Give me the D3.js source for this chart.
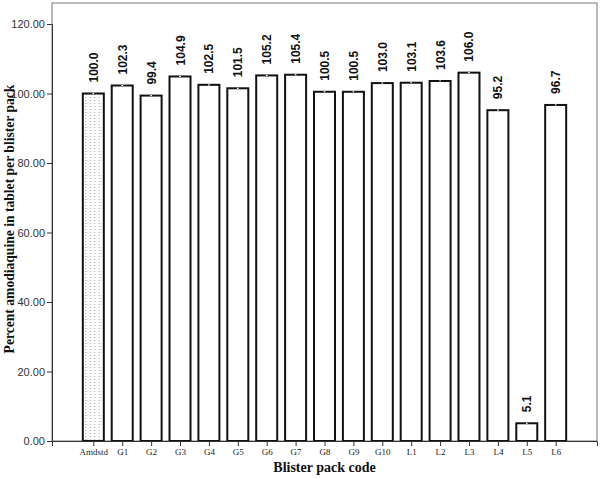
<!DOCTYPE html>
<html><head><meta charset="utf-8">
<script src="https://cdn.jsdelivr.net/npm/d3@7"></script>
<style>body{margin:0;background:#fff}</style>
</head><body>
<svg id="c" width="600" height="478"></svg>
<script>
const categories = ["Amdstd","G1","G2","G3","G4","G5","G6","G7","G8","G9","G10","L1","L2","L3","L4","L5","L6"];
const values = [100.0,102.3,99.4,104.9,102.5,101.5,105.2,105.4,100.5,100.5,103.0,103.1,103.6,106.0,95.2,5.1,96.7];
const yTicks = [0,20,40,60,80,100,120];

const svg = d3.select("#c");
const L = 52, R = 597, T = 3, B = 441;
const y = d3.scaleLinear().domain([0,120]).range([B, 24]);
const x = d3.scalePoint().domain(categories).range([L, R]).padding(1.43);
const bw = 21;

const defs = svg.append("defs");
const pat = defs.append("pattern").attr("id","dots").attr("patternUnits","userSpaceOnUse")
  .attr("width",4.5).attr("height",3).attr("x",x(categories[0])-bw/2+0.5).attr("y",0);
pat.append("rect").attr("x",2).attr("y",1).attr("width",1).attr("height",1).attr("fill","#999");

// frame
svg.append("rect").attr("x",L).attr("y",T).attr("width",R-L).attr("height",B-T)
  .attr("fill","none").attr("stroke","#777").attr("stroke-width",1);

// bars
const g = svg.append("g");
g.selectAll("rect.bar").data(categories).join("rect").attr("class","bar")
  .attr("x",d=>x(d)-bw/2).attr("y",(d,i)=>y(values[i]))
  .attr("width",bw).attr("height",(d,i)=>B-y(values[i]))
  .attr("fill",(d,i)=>i===0?"url(#dots)":"#fff")
  .attr("stroke","#111").attr("stroke-width",2);
// small gap on top
g.selectAll("line.gap").data(categories).join("line").attr("class","gap")
  .attr("x1",d=>x(d)-0.8).attr("x2",d=>x(d)+0.8)
  .attr("y1",(d,i)=>y(values[i])).attr("y2",(d,i)=>y(values[i]))
  .attr("stroke","#fff").attr("stroke-width",1.2);

// value labels
g.selectAll("text.v").data(categories).join("text").attr("class","v")
  .attr("transform",(d,i)=>`translate(${x(d)+4.5},${y(values[i])-11}) rotate(-90)`)
  .attr("font-family","Arial, Liberation Sans, sans-serif").attr("font-weight","bold")
  .attr("font-size","12px").attr("fill","#111")
  .text((d,i)=>values[i].toFixed(1));

// y axis
const ya = svg.append("g").attr("transform",`translate(${L},0)`)
  .call(d3.axisLeft(y).tickValues(yTicks).tickFormat(d=>d.toFixed(2)).tickSize(5).tickPadding(2));
ya.select(".domain").attr("stroke","#333");
ya.selectAll(".tick line").attr("stroke","#333");
ya.selectAll(".tick text").attr("font-family","Arial, Liberation Sans, sans-serif").attr("font-size","11px").attr("fill","#333");

// x axis
const xa = svg.append("g").attr("transform",`translate(0,${B})`)
  .call(d3.axisBottom(x).tickSize(5).tickPadding(3));
xa.select(".domain").attr("stroke","#333");
xa.selectAll(".tick line").attr("stroke","#333");
xa.selectAll(".tick text").attr("font-family","Liberation Serif, Times New Roman, serif").attr("font-size","9px").attr("fill","#222");

// titles
svg.append("text").attr("x",(L+R)/2).attr("y",472).attr("text-anchor","middle")
  .attr("font-family","Liberation Serif, Times New Roman, serif").attr("font-weight","bold")
  .attr("font-size","14px").attr("fill","#111").text("Blister pack code");
svg.append("text").attr("transform",`translate(14,219) rotate(-90)`).attr("text-anchor","middle")
  .attr("font-family","Liberation Serif, Times New Roman, serif").attr("font-weight","bold")
  .attr("font-size","13.6px").attr("fill","#111").text("Percent amodiaquine in tablet per blister pack");
</script>
</body></html>
